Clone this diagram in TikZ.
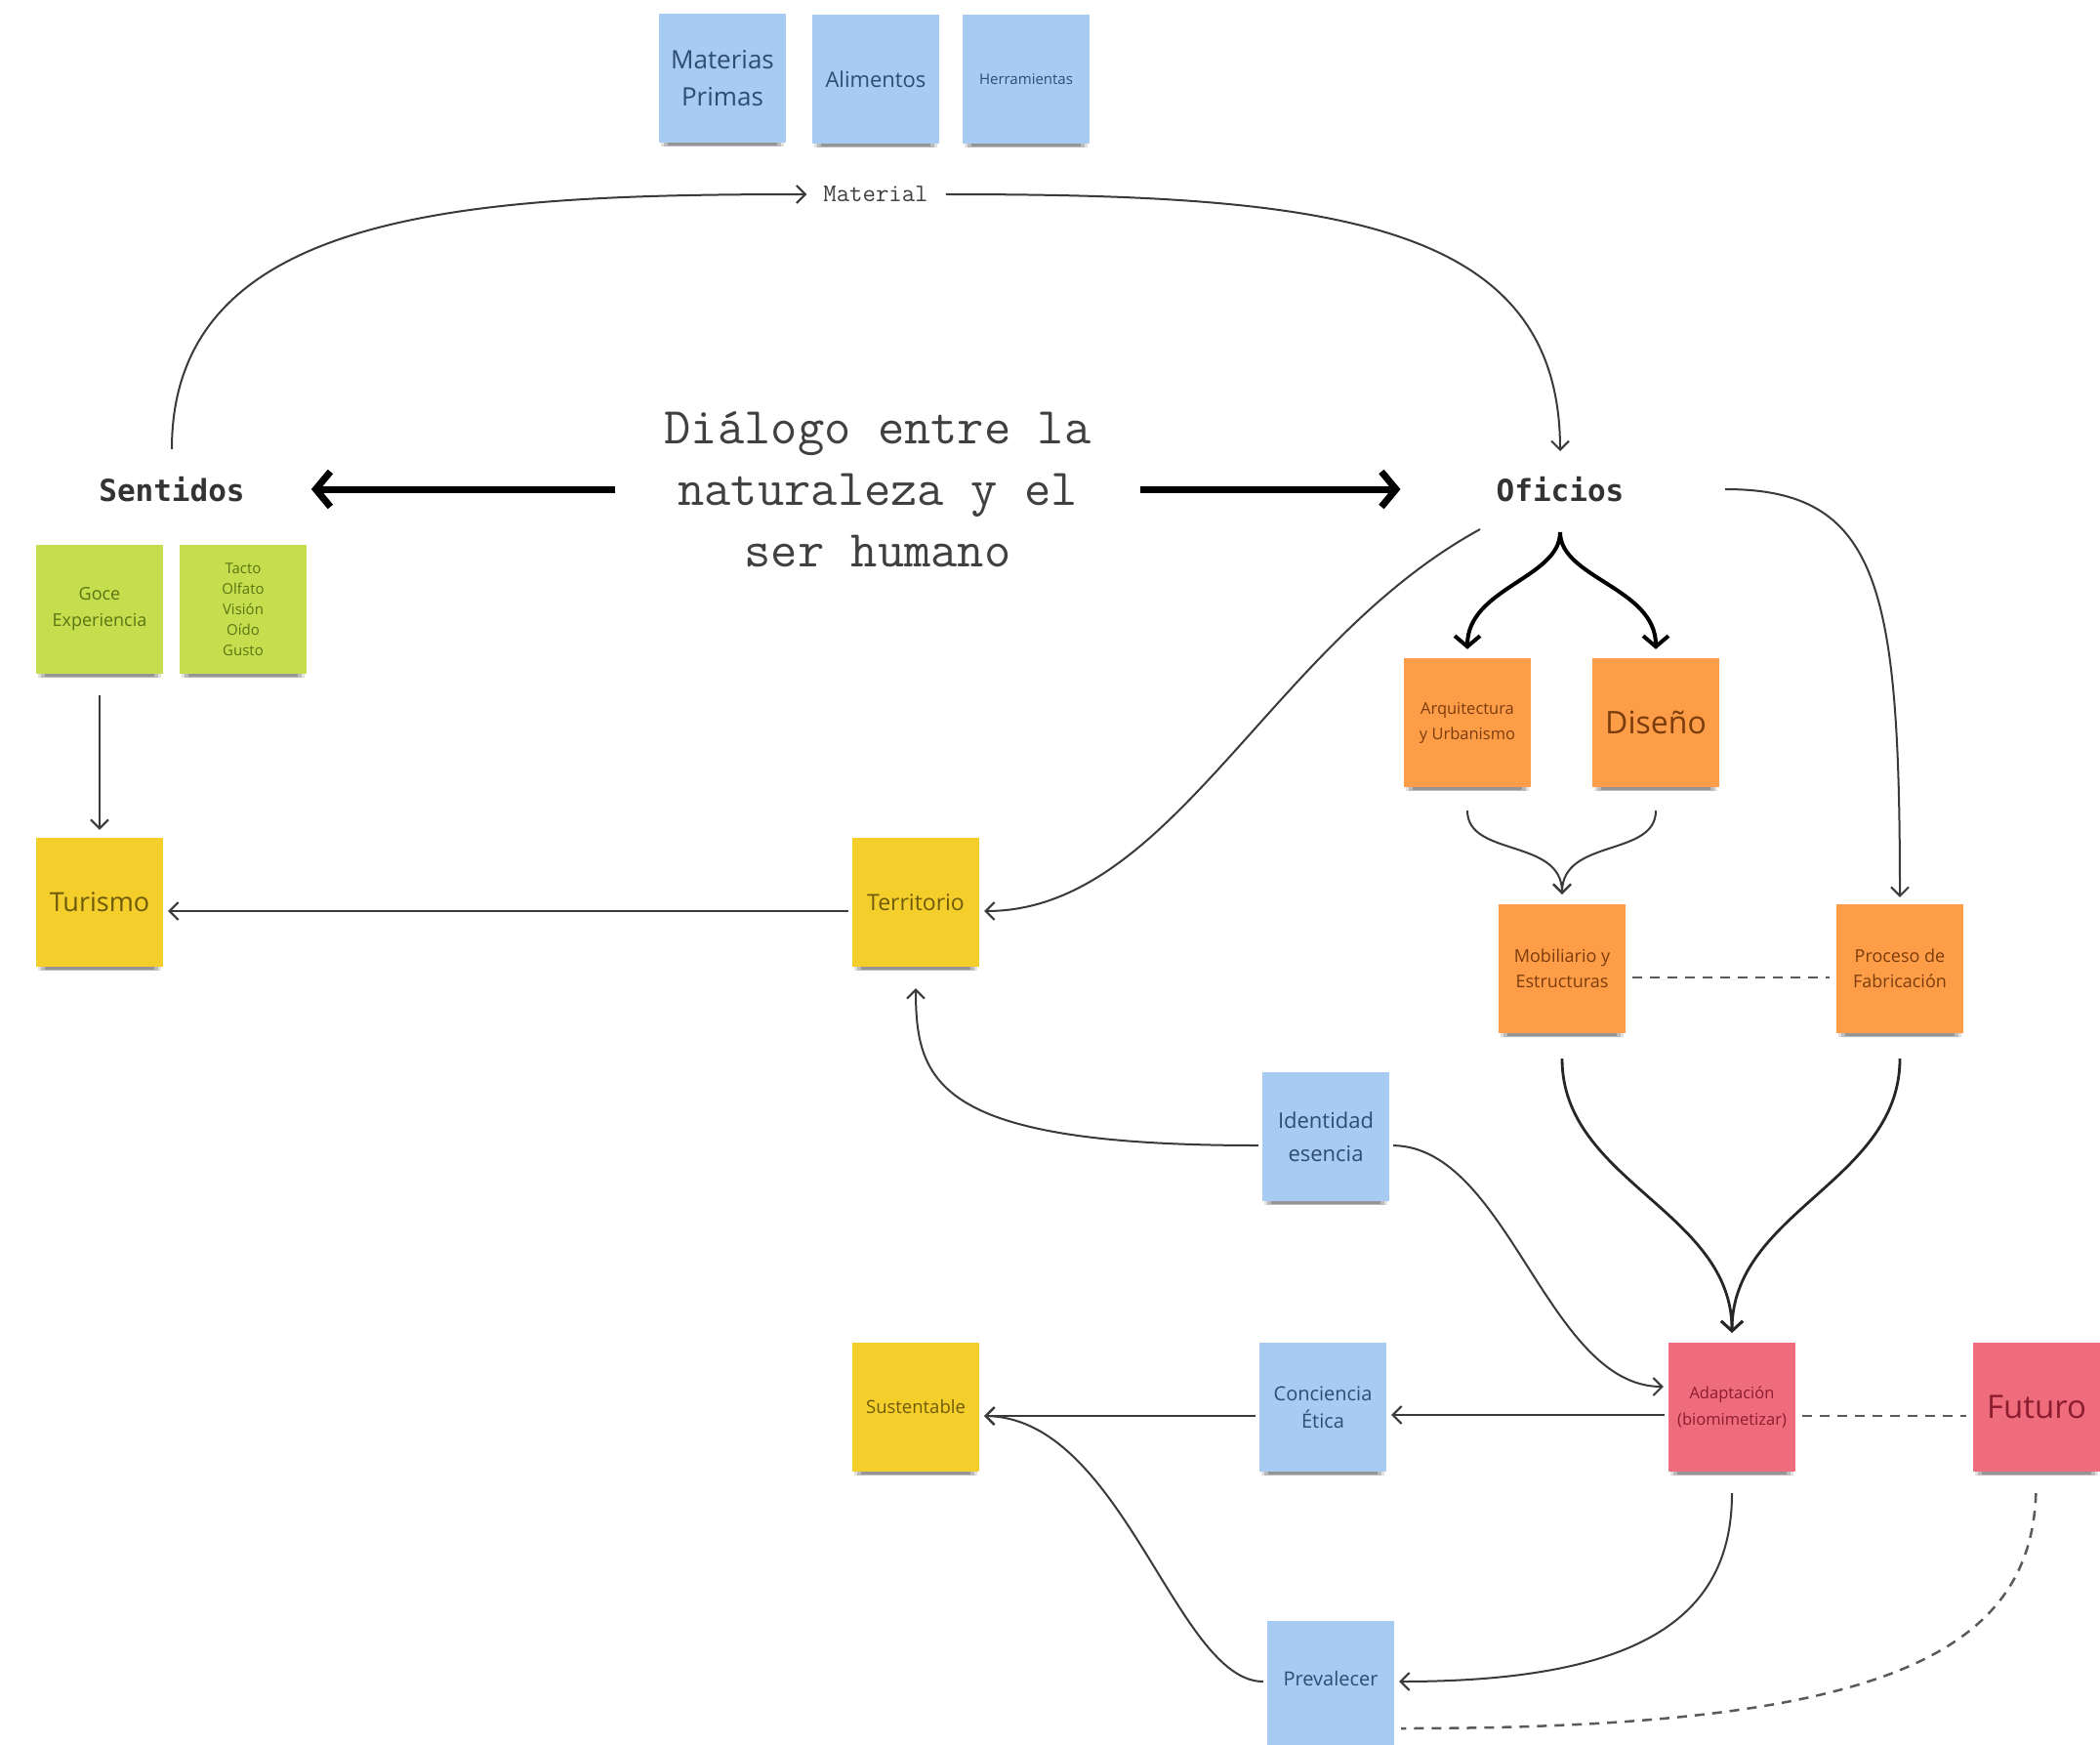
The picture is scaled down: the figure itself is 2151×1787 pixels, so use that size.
\documentclass[tikz,border=0pt]{standalone}
\usepackage{fontspec}
\setsansfont{Open Sans}
\newfontfamily\lblmono{DejaVu Sans Mono}
\usetikzlibrary{arrows.meta,shadows}
\definecolor{nblue}{HTML}{A7CBF2}
\definecolor{ngreen}{HTML}{C6DE4E}
\definecolor{nyellow}{HTML}{F4CF2C}
\definecolor{norange}{HTML}{FE9D48}
\definecolor{npink}{HTML}{EF6C7C}
\definecolor{tblue}{HTML}{2E4D73}
\definecolor{tgreen}{HTML}{5A7512}
\definecolor{tyellow}{HTML}{6E5A0A}
\definecolor{torange}{HTML}{7A3C0C}
\definecolor{tpink}{HTML}{8C1C30}
\definecolor{linec}{HTML}{3A3A3A}
\definecolor{dashc}{HTML}{5A5A5A}
\begin{document}
\begin{tikzpicture}[x=1pt,y=-1pt,
  note/.style={rectangle, minimum width=130pt, minimum height=132pt, inner sep=3pt, align=center,
    general shadow={shadow scale=0.97, shadow yshift=-6pt, fill=black, opacity=0.12},
    general shadow={shadow scale=0.92, shadow yshift=-10pt, fill=black, opacity=0.16},
    general shadow={shadow scale=0.86, shadow yshift=-14pt, fill=black, opacity=0.20}},
  bluen/.style={note, fill=nblue, text=tblue},
  greenn/.style={note, fill=ngreen, text=tgreen},
  yellown/.style={note, fill=nyellow, text=tyellow},
  orangen/.style={note, fill=norange, text=torange},
  pinkn/.style={note, fill=npink, text=tpink},
  fs/.style 2 args={font=\sffamily\fontsize{#1}{#2}\selectfont},
  lab/.style={inner sep=0pt, text=black!80, font=\lblmono\bfseries\fontsize{31}{36}\selectfont},
  conn/.style={draw=linec, line width=2pt, shorten <=4pt, shorten >=5pt, -{Straight Barb[length=9pt,width=18pt]}},
  bigarrow/.style={draw=black, line width=7pt, -{Straight Barb[length=15pt,width=36pt]}},
  bracearrow/.style={draw=black, line width=4pt, shorten >=9pt, -{Straight Barb[length=11pt,width=26pt]}},
  mergearrow/.style={draw=black!85, line width=2.8pt, shorten >=10pt, -{Straight Barb[length=10pt,width=22pt]}},
  dashline/.style={draw=dashc, line width=2.5pt, dash pattern=on 10pt off 8pt, shorten <=7pt, shorten >=7pt}
]
\useasboundingbox (0,0) rectangle (2151,1787);
\fill[white] (0,0) rectangle (2151,1787);

% ---------- top notes ----------
\node[bluen, fs={26}{38}] (mat) at (740,80) {Materias\\Primas};
\node[bluen, fs={22}{30}] (ali) at (897,81) {Alimentos};
\node[bluen, fs={15}{20}] (her) at (1051,81) {Herramientas};

% ---------- labels ----------
\node[inner xsep=50pt, inner ysep=0pt, align=center, text=black!75,
      font=\ttfamily\fontsize{53}{63}\selectfont] (title) at (899,501) {Diálogo entre la\\naturaleza y el\\ser humano};
\node[lab] (sent) at (176,501) {Sentidos};
\node[lab] (ofi) at (1598,501) {Oficios};
\node[inner sep=0pt, text=black!75, font=\ttfamily\fontsize{26}{30}\selectfont] (matl) at (897,199) {Material};

\coordinate (sentTop) at (176,460);
\coordinate (ofiTop) at (1598,462);
\coordinate (ofiSplit) at (1598,545);
\coordinate (ofiL) at (1516,542);
\coordinate (ofiR) at (1767,501);

% ---------- notes ----------
\node[greenn, fs={18}{27}] (goce) at (102,624) {Goce\\Experiencia};
\node[greenn, fs={15}{21}] (tacto) at (249,624) {Tacto\\Olfato\\Visión\\Oído\\Gusto};
\node[yellown, fs={27}{34}] (tur) at (102,924) {Turismo};
\node[yellown, fs={23}{30}] (terr) at (938,924) {Territorio};
\node[orangen, fs={16.5}{26}] (arq) at (1503,740) {Arquitectura\\y Urbanismo};
\node[orangen, fs={32}{40}] (dis) at (1696,740) {Diseño};
\node[orangen, fs={18}{26}] (mob) at (1600,992) {Mobiliario y\\Estructuras};
\node[orangen, fs={18}{26}] (proc) at (1946,992) {Proceso de\\Fabricación};
\node[bluen, fs={22}{34}] (iden) at (1358,1164) {Identidad\\esencia};
\node[pinkn, fs={16.5}{27}] (adap) at (1774,1441) {Adaptación\\(biomimetizar)};
\node[pinkn, fs={33}{40}] (fut) at (2086,1441) {Futuro};
\node[yellown, fs={18.5}{24}] (sust) at (938,1441) {Sustentable};
\node[bluen, fs={20}{28}] (conc) at (1355,1441) {Conciencia\\Ética};
\node[bluen, fs={20}{26}] (prev) at (1363,1726) {\raisebox{14pt}{Prevalecer}};

% ---------- connectors ----------
\draw[conn, shorten <=0pt, shorten >=17pt] (sentTop) .. controls (176,215) and (480,199) .. (matl.west);
\draw[conn, shorten <=18pt, shorten >=0pt] (matl.east) .. controls (1360,199) and (1598,225) .. (ofiTop);

\draw[bigarrow, shorten >=68pt] (title.west) -- (sent.east);
\draw[bigarrow, shorten >=98pt] (title.east) -- (ofi.west);

\draw[bracearrow] (ofiSplit) .. controls (1598,592) and (1503,602) .. (arq.north);
\draw[bracearrow] (ofiSplit) .. controls (1598,592) and (1696,602) .. (dis.north);

\draw[conn, shorten <=0pt] (ofiL) .. controls (1300,660) and (1200,933) .. ([yshift=-9pt]terr.east);
\draw[conn, shorten <=0pt, shorten >=7pt] (ofiR) .. controls (1925,501) and (1946,600) .. (proc.north);

\draw[conn, shorten <=24pt, shorten >=10pt] (arq.south) .. controls (1503,878) and (1600,858) .. (mob.north);
\draw[conn, shorten <=24pt, shorten >=10pt] (dis.south) .. controls (1696,878) and (1600,858) .. (mob.north);

\draw[conn] ([yshift=-9pt]terr.west) -- ([yshift=-9pt]tur.east);
\draw[conn, shorten <=22pt, shorten >=8pt] (goce.south) -- (tur.north);

\draw[dashline] ([yshift=-9pt]mob.east) -- ([yshift=-9pt]proc.west);

\draw[mergearrow, shorten <=26pt] (mob.south) .. controls (1600,1210) and (1774,1240) .. (adap.north);
\draw[mergearrow, shorten <=26pt] (proc.south) .. controls (1946,1210) and (1774,1240) .. (adap.north);

\draw[conn, shorten >=22pt] ([yshift=-9pt]iden.west) .. controls (960,1173) and (938,1110) .. (terr.south);
\draw[conn] ([yshift=-9pt]iden.east) .. controls (1545,1175) and (1585,1420) .. ([yshift=21pt]adap.west);

\draw[conn] ([yshift=-8pt]adap.west) -- ([yshift=-8pt]conc.east);
\draw[conn] ([yshift=-9pt]conc.west) -- ([yshift=-9pt]sust.east);
\draw[dashline] ([yshift=-9pt]adap.east) -- ([yshift=-9pt]fut.west);

\draw[conn, shorten <=22pt] (adap.south) .. controls (1774,1650) and (1690,1722) .. ([yshift=4pt]prev.east);
\draw[conn] ([yshift=4pt]prev.west) .. controls (1205,1722) and (1150,1452) .. ([yshift=-9pt]sust.east);
\draw[dashline, shorten <=22pt] (fut.south) .. controls (2080,1705) and (1900,1770) .. ([yshift=-44pt]prev.east);
\end{tikzpicture}
\end{document}
